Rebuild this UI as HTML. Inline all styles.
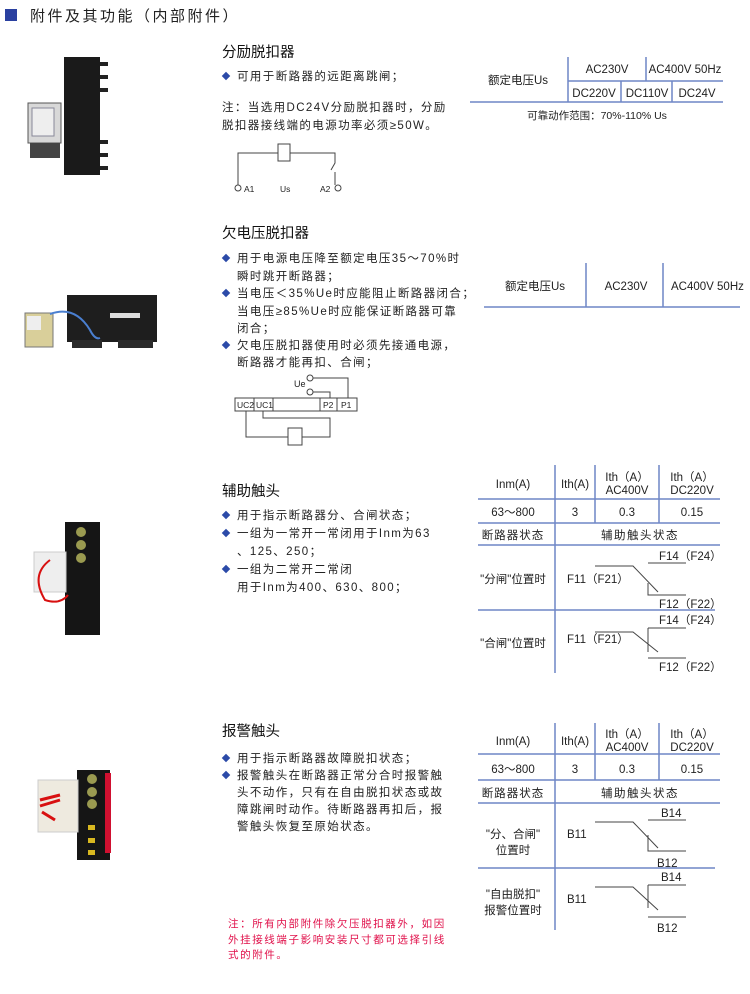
<!DOCTYPE html>
<html><head><meta charset="utf-8"><style>
html,body{margin:0;padding:0;background:#fff;}
svg{display:block;font-family:"Liberation Sans","Noto Sans CJK SC",sans-serif;}
.t{font-size:11.5px;fill:#222;letter-spacing:1.4px;}
.h{font-size:14.5px;fill:#111;}
.s{font-size:11.5px;fill:#222;}
.c{text-anchor:middle;}
.ln{stroke:#6f86c6;stroke-width:1.5;fill:none;}
.w{stroke:#444;stroke-width:1;fill:none;}
.d{fill:#2b4aa8;}
.r{font-size:10.5px;fill:#e0104a;letter-spacing:1.6px;}
</style></head><body>
<svg width="750" height="994" viewBox="0 0 750 994" xmlns="http://www.w3.org/2000/svg">
<!-- header -->
<rect x="5" y="9" width="12" height="12" fill="#2a40a0"/>
<text x="30" y="21" style="font-size:15px;fill:#222;letter-spacing:2.5px">附件及其功能（内部附件）</text>

<!-- image 1 -->
<rect x="64" y="57" width="36" height="118" fill="#1a1a1a"/>
<rect x="100" y="62" width="8" height="4" fill="#222"/><rect x="100" y="75" width="8" height="4" fill="#222"/><rect x="100" y="88" width="8" height="4" fill="#222"/>
<rect x="100" y="140" width="8" height="4" fill="#222"/><rect x="100" y="153" width="8" height="4" fill="#222"/><rect x="100" y="166" width="8" height="4" fill="#222"/>
<rect x="28" y="103" width="33" height="40" fill="#d8d8d8" stroke="#555"/>
<rect x="32" y="108" width="22" height="28" fill="#eee" stroke="#889"/>
<rect x="30" y="143" width="30" height="15" fill="#444"/>

<!-- section 1 -->
<text x="222" y="57" class="h">分励脱扣器</text>
<rect x="223" y="73" width="6" height="6" class="d" transform="rotate(45 226 76)"/>
<text x="237" y="80" class="t">可用于断路器的远距离跳闸；</text>
<text x="222" y="111" class="t">注：当选用DC24V分励脱扣器时，分励</text>
<text x="222" y="129" class="t">脱扣器接线端的电源功率必须≥50W。</text>
<g class="w">
<path d="M238 185 V153 H278 M290 153 H335 V163 L331 170 M335 172 V185"/>
<rect x="278" y="144" width="12" height="17"/>
<circle cx="238" cy="188" r="3"/><circle cx="338" cy="188" r="3"/>
</g>
<text x="244" y="192" style="font-size:8.5px;fill:#222">A1</text>
<text x="280" y="192" style="font-size:8.5px;fill:#222">Us</text>
<text x="320" y="192" style="font-size:8.5px;fill:#222">A2</text>

<!-- table 1 -->
<g class="ln">
<path d="M470 102 H723 M568 57 V102 M568 81 H723 M646 57 V81 M621 81 V102 M672 81 V102"/>
</g>
<text x="518" y="84" class="s c">额定电压Us</text>
<text x="607" y="73" class="s c">AC230V</text>
<text x="685" y="73" class="s c">AC400V  50Hz</text>
<text x="594" y="97" class="s c">DC220V</text>
<text x="647" y="97" class="s c">DC110V</text>
<text x="697" y="97" class="s c">DC24V</text>
<text x="597" y="119" class="s c" style="font-size:10.5px">可靠动作范围：70%-110% Us</text>

<!-- image 2 -->
<rect x="67" y="295" width="90" height="47" fill="#1e1e1e"/>
<rect x="72" y="340" width="30" height="8" fill="#2a2a2a"/><rect x="118" y="340" width="35" height="8" fill="#2a2a2a"/>
<rect x="110" y="313" width="30" height="5" fill="#ddd"/>
<rect x="25" y="313" width="28" height="34" fill="#d9cf9a" stroke="#777"/>
<rect x="27" y="316" width="14" height="14" fill="#eee"/>
<path d="M50 314 Q75 305 90 330 Q95 340 100 338" stroke="#4a7fd0" stroke-width="2" fill="none"/>

<!-- section 2 -->
<text x="222" y="238" class="h">欠电压脱扣器</text>
<rect x="223" y="255" width="6" height="6" class="d" transform="rotate(45 226 258)"/>
<text x="237" y="262" class="t">用于电源电压降至额定电压35～70%时</text>
<text x="237" y="280" class="t">瞬时跳开断路器；</text>
<rect x="223" y="290" width="6" height="6" class="d" transform="rotate(45 226 293)"/>
<text x="237" y="297" class="t">当电压＜35%Ue时应能阻止断路器闭合；</text>
<text x="237" y="315" class="t">当电压≥85%Ue时应能保证断路器可靠</text>
<text x="237" y="332" class="t">闭合；</text>
<rect x="223" y="342" width="6" height="6" class="d" transform="rotate(45 226 345)"/>
<text x="237" y="349" class="t">欠电压脱扣器使用时必须先接通电源，</text>
<text x="237" y="366" class="t">断路器才能再扣、合闸；</text>
<g class="w">
<circle cx="310" cy="378" r="3"/><circle cx="310" cy="392" r="3"/>
<path d="M313 378 H348 V398 M313 392 H330 V398"/>
<rect x="235" y="398" width="122" height="13"/>
<path d="M254 398 V411 M273 398 V411 M320 398 V411 M337 398 V411"/>
<path d="M246 411 V437 H288 M263 411 V418 H330 V437 H302"/>
<rect x="288" y="428" width="14" height="17"/>
</g>
<text x="294" y="387" style="font-size:9px;fill:#222">Ue</text>
<text x="237" y="408" style="font-size:8.5px;fill:#222">UC2</text>
<text x="256" y="408" style="font-size:8.5px;fill:#222">UC1</text>
<text x="323" y="408" style="font-size:8.5px;fill:#222">P2</text>
<text x="341" y="408" style="font-size:8.5px;fill:#222">P1</text>

<!-- table 2 -->
<g class="ln"><path d="M484 307 H740 M586 263 V307 M663 263 V307"/></g>
<text x="535" y="290" class="s c">额定电压Us</text>
<text x="626" y="290" class="s c">AC230V</text>
<text x="671" y="290" class="s">AC400V  50Hz</text>

<!-- image 3 -->
<rect x="65" y="522" width="35" height="113" fill="#151515"/>
<circle cx="81" cy="532" r="5" fill="#9a9a50"/><circle cx="81" cy="545" r="5" fill="#9a9a50"/><circle cx="81" cy="558" r="5" fill="#9a9a50"/>
<rect x="34" y="552" width="32" height="40" fill="#eee" stroke="#ccc"/>
<path d="M50 560 Q30 575 45 600 Q60 605 68 595" stroke="#d81010" stroke-width="2" fill="none"/>

<!-- section 3 -->
<text x="222" y="496" class="h">辅助触头</text>
<rect x="223" y="512" width="6" height="6" class="d" transform="rotate(45 226 515)"/>
<text x="237" y="519" class="t">用于指示断路器分、合闸状态；</text>
<rect x="223" y="530" width="6" height="6" class="d" transform="rotate(45 226 533)"/>
<text x="237" y="537" class="t">一组为一常开一常闭用于Inm为63</text>
<text x="237" y="555" class="t">、125、250；</text>
<rect x="223" y="566" width="6" height="6" class="d" transform="rotate(45 226 569)"/>
<text x="237" y="573" class="t">一组为二常开二常闭</text>
<text x="237" y="591" class="t">用于Inm为400、630、800；</text>

<!-- table 3 -->
<g class="ln">
<path d="M555 465 V673 M595 465 V523 M659 465 V523 M478 499 H720 M478 523 H720 M478 545 H720 M478 610 H715"/>
</g>
<text x="513" y="488" class="s c">Inm(A)</text>
<text x="575" y="488" class="s c">Ith(A)</text>
<text x="627" y="481" class="s c">Ith（A）</text><text x="627" y="494" class="s c">AC400V</text>
<text x="692" y="481" class="s c">Ith（A）</text><text x="692" y="494" class="s c">DC220V</text>
<text x="513" y="516" class="s c">63～800</text><text x="575" y="516" class="s c">3</text>
<text x="627" y="516" class="s c">0.3</text><text x="692" y="516" class="s c">0.15</text>
<text x="513" y="539" class="s c" style="letter-spacing:1px">断路器状态</text>
<text x="640" y="539" class="s c" style="letter-spacing:1.5px">辅助触头状态</text>
<g class="w">
<path d="M648 563 H686 M595 566 H633 L658 592 M648 583 V595 H686"/>
<path d="M648 628 H686 M648 628 V652 M595 632 H633 L658 652 M648 658 H686"/>
</g>
<text x="659" y="560" class="s">F14（F24）</text>
<text x="567" y="583" class="s">F11（F21）</text>
<text x="659" y="608" class="s">F12（F22）</text>
<text x="513" y="583" class="s c">"分闸"位置时</text>
<text x="659" y="624" class="s">F14（F24）</text>
<text x="567" y="643" class="s">F11（F21）</text>
<text x="659" y="671" class="s">F12（F22）</text>
<text x="513" y="647" class="s c">"合闸"位置时</text>

<!-- image 4 -->
<rect x="77" y="770" width="33" height="90" fill="#151515"/>
<rect x="105" y="773" width="6" height="80" fill="#d01030"/>
<circle cx="92" cy="779" r="5" fill="#9a9a50"/><circle cx="92" cy="792" r="5" fill="#9a9a50"/><circle cx="92" cy="804" r="5" fill="#9a9a50"/>
<rect x="88" y="825" width="7" height="5" fill="#d8b820"/><rect x="88" y="838" width="7" height="5" fill="#d8b820"/><rect x="88" y="850" width="7" height="5" fill="#d8b820"/>
<rect x="38" y="780" width="40" height="52" fill="#eeeadf" stroke="#ccc"/>
<path d="M40 800 L60 795 M40 806 L60 800 M42 812 L55 820" stroke="#d81010" stroke-width="3"/>

<!-- section 4 -->
<text x="222" y="736" class="h">报警触头</text>
<rect x="223" y="755" width="6" height="6" class="d" transform="rotate(45 226 758)"/>
<text x="237" y="762" class="t">用于指示断路器故障脱扣状态；</text>
<rect x="223" y="772" width="6" height="6" class="d" transform="rotate(45 226 775)"/>
<text x="237" y="779" class="t">报警触头在断路器正常分合时报警触</text>
<text x="237" y="796" class="t">头不动作，只有在自由脱扣状态或故</text>
<text x="237" y="813" class="t">障跳闸时动作。待断路器再扣后，报</text>
<text x="237" y="830" class="t">警触头恢复至原始状态。</text>

<!-- table 4 -->
<g class="ln">
<path d="M555 723 V930 M595 723 V780 M659 723 V780 M478 754 H720 M478 780 H720 M478 803 H720 M478 868 H715"/>
</g>
<text x="513" y="745" class="s c">Inm(A)</text>
<text x="575" y="745" class="s c">Ith(A)</text>
<text x="627" y="738" class="s c">Ith（A）</text><text x="627" y="751" class="s c">AC400V</text>
<text x="692" y="738" class="s c">Ith（A）</text><text x="692" y="751" class="s c">DC220V</text>
<text x="513" y="773" class="s c">63～800</text><text x="575" y="773" class="s c">3</text>
<text x="627" y="773" class="s c">0.3</text><text x="692" y="773" class="s c">0.15</text>
<text x="513" y="797" class="s c" style="letter-spacing:1px">断路器状态</text>
<text x="640" y="797" class="s c" style="letter-spacing:1.5px">辅助触头状态</text>
<g class="w">
<path d="M648 820 H686 M595 822 H633 L658 848 M648 835 V851 H686"/>
<path d="M648 885 H686 M648 885 V908 M595 887 H633 L658 910 M648 917 H686"/>
</g>
<text x="661" y="817" class="s">B14</text>
<text x="567" y="838" class="s">B11</text>
<text x="657" y="867" class="s">B12</text>
<text x="513" y="838" class="s c">"分、合闸"</text>
<text x="513" y="854" class="s c">位置时</text>
<text x="661" y="881" class="s">B14</text>
<text x="567" y="903" class="s">B11</text>
<text x="657" y="932" class="s">B12</text>
<text x="513" y="898" class="s c">"自由脱扣"</text>
<text x="513" y="914" class="s c">报警位置时</text>

<!-- note -->
<text x="228" y="927" class="r">注：所有内部附件除欠压脱扣器外，如因</text>
<text x="228" y="943" class="r">外挂接线端子影响安装尺寸都可选择引线</text>
<text x="228" y="958" class="r">式的附件。</text>
</svg>
</body></html>
